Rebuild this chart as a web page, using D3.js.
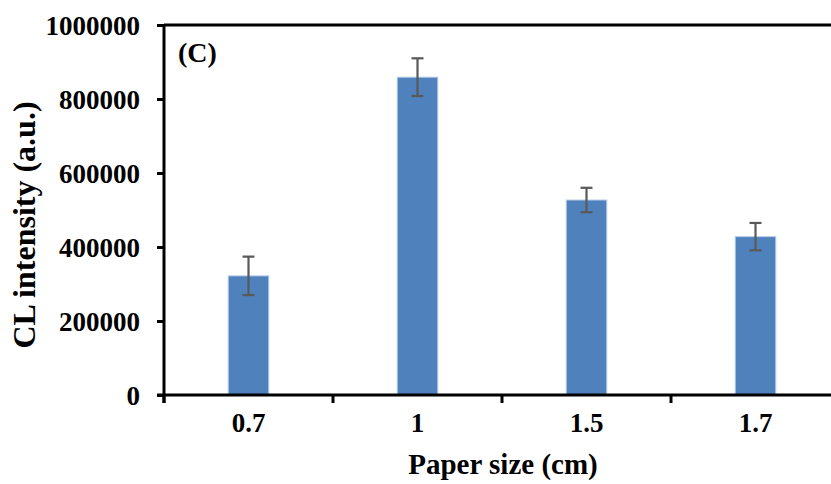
<!DOCTYPE html>
<html>
<head>
<meta charset="utf-8">
<script src="https://cdn.jsdelivr.net/npm/d3@7"></script>
<style>
  html, body { margin: 0; padding: 0; background: #fff; }
  svg { display: block; }
  text { font-family: "Liberation Serif", "Times New Roman", serif; font-weight: bold; fill: #000; }
</style>
</head>
<body>
<svg id="chart" width="831" height="484"></svg>
<script>
// Chemiluminescence intensity versus paper size
const categories = ["0.7", "1", "1.5", "1.7"];
const values = [322000, 859000, 527000, 428000];
const errors = [52000, 51000, 33000, 37000];
const yTicks = [0, 200000, 400000, 600000, 800000, 1000000];

const svg = d3.select("#chart");
const plotLeft = 164, plotRight = 840, plotTop = 25, plotBottom = 395;

const x = d3.scaleBand().domain(categories).range([plotLeft, plotRight]).paddingInner(0).paddingOuter(0);
const y = d3.scaleLinear().domain([0, 1000000]).range([plotBottom, plotTop]);

const barW = x.bandwidth() * 0.24;

// bars
svg.append("g").selectAll("rect").data(values).join("rect")
  .attr("x", (d, i) => x(categories[i]) + x.bandwidth() / 2 - barW / 2)
  .attr("y", d => y(d))
  .attr("width", barW)
  .attr("height", d => y(0) - y(d))
  .attr("fill", "#4F81BD")
  .attr("stroke", "#b9cde5")
  .attr("stroke-width", 1);

// error bars
const eb = svg.append("g").attr("stroke", "#595959").attr("stroke-width", 2.2);
values.forEach((v, i) => {
  const cx = x(categories[i]) + x.bandwidth() / 2;
  const hi = y(v + errors[i]), lo = y(v - errors[i]);
  eb.append("line").attr("x1", cx).attr("x2", cx).attr("y1", hi).attr("y2", lo);
  eb.append("line").attr("x1", cx - 6).attr("x2", cx + 6).attr("y1", hi).attr("y2", hi);
  eb.append("line").attr("x1", cx - 6).attr("x2", cx + 6).attr("y1", lo).attr("y2", lo);
});

// top frame line
svg.append("line").attr("x1", plotLeft).attr("x2", 831).attr("y1", plotTop).attr("y2", plotTop)
  .attr("stroke", "#000").attr("stroke-width", 3);

// y axis
const yAxis = svg.append("g").attr("transform", `translate(${plotLeft},0)`)
  .call(d3.axisLeft(y).tickValues(yTicks).tickFormat(d3.format("d")).tickSize(7).tickPadding(17));
yAxis.select(".domain").attr("stroke", "#000").attr("stroke-width", 3)
  .attr("d", `M0,${plotBottom + 8}V${plotTop}`);
yAxis.selectAll(".tick line").attr("stroke", "#000").attr("stroke-width", 3);
yAxis.selectAll(".tick text").style("font-size", "27px").attr("dy", "0.34em");

// x axis
const xAxis = svg.append("g").attr("transform", `translate(0,${plotBottom})`)
  .call(d3.axisBottom(x).tickSize(0).tickPadding(18));
xAxis.select(".domain").attr("stroke", "#000").attr("stroke-width", 3)
  .attr("d", `M${plotLeft - 7},0H831`);
xAxis.selectAll(".tick text").style("font-size", "27px");
// category boundary ticks
svg.append("g").selectAll("line").data(categories.concat(["end"])).join("line")
  .attr("x1", (d, i) => plotLeft + i * x.bandwidth())
  .attr("x2", (d, i) => plotLeft + i * x.bandwidth())
  .attr("y1", plotBottom).attr("y2", plotBottom + 8)
  .attr("stroke", "#000").attr("stroke-width", 3);

// axis titles
svg.append("text").attr("x", 503).attr("y", 474).attr("text-anchor", "middle")
  .style("font-size", "29px").text("Paper size (cm)");
svg.append("text").attr("transform", "translate(35,225) rotate(-90)").attr("text-anchor", "middle")
  .style("font-size", "32px").text("CL intensity (a.u.)");

// panel label
svg.append("text").attr("x", 178).attr("y", 62).style("font-size", "28px").text("(C)");
</script>
</body>
</html>
